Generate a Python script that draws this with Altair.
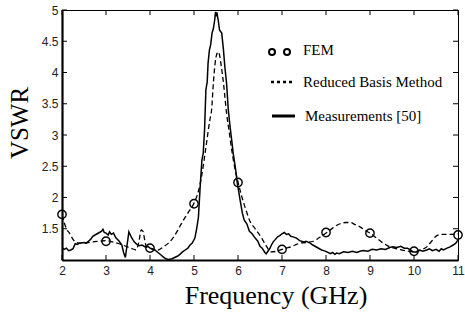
import altair as alt
import pandas as pd

# ---------------- data ----------------
series_names = ["FEM", "Reduced Basis Method", "Measurements [50]"]
x_title = "Frequency (GHz)"
y_title = "VSWR"

fem_freq = [2, 3, 4, 5, 6, 7, 8, 9, 10, 11]
fem_vswr = [1.73, 1.30, 1.19, 1.90, 2.24, 1.17, 1.44, 1.43, 1.14, 1.40]

rbm_freq = [2.00, 2.05, 2.10, 2.18, 2.25, 2.30, 2.40, 2.52, 2.70, 2.85, 3.00, 3.15, 3.30, 3.45,
            3.60, 3.68, 3.75, 3.80, 3.84, 3.88, 3.92, 4.00, 4.10, 4.19, 4.30, 4.42, 4.55, 4.65,
            4.72, 4.85, 5.00, 5.10, 5.17, 5.25, 5.30, 5.36, 5.40, 5.44, 5.48, 5.52, 5.55, 5.58,
            5.62, 5.67, 5.74, 5.80, 5.86, 5.92, 6.00, 6.10, 6.20, 6.26, 6.39, 6.52, 6.63, 6.75,
            6.88, 7.00, 7.10, 7.20, 7.30, 7.41, 7.55, 7.71, 7.85, 8.02, 8.15, 8.32, 8.45,
            8.55, 8.65, 8.77, 8.90, 9.00, 9.15, 9.30, 9.45, 9.60, 9.80, 10.00, 10.15, 10.29,
            10.40, 10.52, 10.65, 10.82, 11.00]
rbm_vswr = [1.72, 1.60, 1.50, 1.42, 1.33, 1.29, 1.27, 1.27, 1.29, 1.30, 1.31, 1.29, 1.26, 1.22,
            1.18, 1.16, 1.30, 1.48, 1.46, 1.32, 1.21, 1.19, 1.16, 1.16, 1.21, 1.27, 1.38, 1.50,
            1.59, 1.74, 1.91, 2.10, 2.33, 2.70, 2.95, 3.24, 3.40, 3.83, 4.15, 4.30, 4.33, 4.28,
            4.10, 3.83, 3.35, 3.05, 2.75, 2.50, 2.25, 1.98, 1.76, 1.64, 1.50, 1.37, 1.24, 1.13,
            1.14, 1.17, 1.19, 1.21, 1.24, 1.27, 1.28, 1.30, 1.36, 1.44, 1.51, 1.58, 1.60,
            1.60, 1.57, 1.53, 1.47, 1.43, 1.35, 1.27, 1.21, 1.18, 1.15, 1.13, 1.16, 1.21,
            1.30, 1.39, 1.41, 1.41, 1.42]

meas_freq = [2.00, 2.05, 2.10, 2.15, 2.20, 2.25, 2.30, 2.35, 2.40, 2.50, 2.55, 2.60, 2.65, 2.70,
             2.75, 2.80, 2.85, 2.90, 2.93, 2.96, 3.00, 3.05, 3.08, 3.12, 3.17, 3.22, 3.30, 3.36,
             3.40, 3.44, 3.52, 3.58, 3.64, 3.70, 3.76, 3.82, 3.89, 3.95, 4.00, 4.05, 4.11, 4.18,
             4.25, 4.30, 4.36, 4.42, 4.50, 4.56, 4.62, 4.68, 4.74, 4.80, 4.86, 4.91, 4.96, 5.02,
             5.06, 5.10, 5.14, 5.18, 5.21, 5.24, 5.27, 5.30, 5.32, 5.35, 5.38, 5.41, 5.44, 5.47,
             5.49, 5.50, 5.52, 5.55, 5.58, 5.63, 5.67, 5.70, 5.74, 5.78, 5.82, 5.86, 5.89, 5.94,
             5.98, 6.05, 6.10, 6.14, 6.20, 6.26, 6.32, 6.37, 6.45, 6.50, 6.55, 6.61, 6.64, 6.68,
             6.72, 6.76, 6.80, 6.85, 6.90, 6.95, 7.00, 7.05, 7.10, 7.15, 7.20, 7.25, 7.33, 7.40,
             7.50, 7.55, 7.64, 7.70, 7.80, 7.90, 7.95, 8.02, 8.10, 8.15, 8.20, 8.24, 8.30, 8.40,
             8.50, 8.60, 8.70, 8.77, 8.85, 8.95, 9.05, 9.15, 9.25, 9.35, 9.45, 9.52, 9.61, 9.70,
             9.78, 9.85, 9.92, 9.98, 10.06, 10.12, 10.20, 10.29, 10.35, 10.42, 10.50, 10.57,
             10.62, 10.67, 10.75, 10.82, 10.89, 10.95, 11.00]
meas_vswr = [1.20, 1.17, 1.19, 1.15, 1.16, 1.18, 1.26, 1.25, 1.27, 1.28, 1.27, 1.30, 1.33, 1.38,
             1.40, 1.42, 1.44, 1.46, 1.49, 1.44, 1.43, 1.40, 1.45, 1.41, 1.43, 1.36, 1.30, 1.24,
             1.12, 1.04, 1.45, 1.36, 1.29, 1.25, 1.23, 1.24, 1.21, 1.22, 1.19, 1.18, 1.16, 1.12,
             1.08, 1.05, 1.02, 1.01, 1.02, 1.04, 1.06, 1.09, 1.13, 1.16, 1.19, 1.24, 1.27, 1.35,
             1.50, 1.68, 2.17, 2.60, 2.71, 3.08, 3.72, 3.85, 4.15, 4.36, 4.45, 4.63, 4.70, 4.84,
             4.97, 4.90, 4.96, 4.84, 4.68, 4.63, 4.36, 4.10, 3.83, 3.40, 3.13, 2.90, 2.71, 2.48,
             2.25, 1.95, 1.75, 1.64, 1.58, 1.46, 1.42, 1.37, 1.30, 1.22, 1.19, 1.12, 1.10, 1.14,
             1.18, 1.24, 1.29, 1.33, 1.37, 1.39, 1.42, 1.44, 1.41, 1.42, 1.38, 1.37, 1.35, 1.31,
             1.29, 1.30, 1.27, 1.24, 1.20, 1.16, 1.15, 1.13, 1.10, 1.12, 1.09, 1.11, 1.10, 1.13,
             1.12, 1.14, 1.12, 1.14, 1.15, 1.14, 1.17, 1.16, 1.18, 1.17, 1.20, 1.21, 1.20, 1.22,
             1.19, 1.19, 1.16, 1.13, 1.13, 1.16, 1.14, 1.16, 1.18, 1.15, 1.17, 1.14,
             1.18, 1.16, 1.19, 1.21, 1.24, 1.27, 1.32]

x_ticks = [2, 3, 4, 5, 6, 7, 8, 9, 10, 11]
y_ticks = [1.5, 2, 2.5, 3, 3.5, 4, 4.5, 5]

fem_df = pd.DataFrame({"f": fem_freq, "v": fem_vswr})
rbm_df = pd.DataFrame({"f": rbm_freq, "v": rbm_vswr})
meas_df = pd.DataFrame({"f": meas_freq, "v": meas_vswr})
xt_df = pd.DataFrame({"f": x_ticks})
yt_df = pd.DataFrame({"v": y_ticks})
title_df = pd.DataFrame({"x_title": [x_title], "y_title": [y_title]})

SERIF = "Liberation Serif"
SANS = "Liberation Sans"

xscale = alt.Scale(domain=[2, 11], nice=False, zero=False)
yscale = alt.Scale(domain=[1, 5], nice=False, zero=False)

x_axis = alt.Axis(values=x_ticks, title=None, format="d", labelPadding=5, labelFont=SANS,
                  labelOverlap=False)
y_axis = alt.Axis(values=y_ticks, title=None, format="~g", labelPadding=4, labelFont=SANS,
                  labelOverlap=False)


def XE(field="f:Q"):
    return alt.X(field, scale=xscale, axis=x_axis)


def YE(field="v:Q"):
    return alt.Y(field, scale=yscale, axis=y_axis)


meas_line = alt.Chart(meas_df).mark_line(color="black", strokeWidth=1.5, clip=True).encode(
    x=XE(), y=YE(), order="f:Q")
rbm_line = alt.Chart(rbm_df).mark_line(color="black", strokeWidth=1.3, strokeDash=[5, 3],
                                       interpolate="monotone", clip=True).encode(
    x=XE(), y=YE(), order="f:Q")
fem_pts = alt.Chart(fem_df).mark_point(shape="circle", filled=False, color="black",
                                       size=70, strokeWidth=1.4, opacity=1).encode(
    x=XE(), y=YE())

# inward ticks
tick_len = 5
bottom_ticks = alt.Chart(xt_df).mark_rule(color="black", strokeWidth=1).encode(
    x=XE(), y=alt.value(250), y2=alt.value(250 - tick_len))
top_ticks = alt.Chart(xt_df).mark_rule(color="black", strokeWidth=1).encode(
    x=XE(), y=alt.value(0), y2=alt.value(tick_len))
left_ticks = alt.Chart(yt_df).mark_rule(color="black", strokeWidth=1).encode(
    y=YE(), x=alt.value(0), x2=alt.value(tick_len))
right_ticks = alt.Chart(yt_df).mark_rule(color="black", strokeWidth=1).encode(
    y=YE(), x=alt.value(396), x2=alt.value(396 - tick_len))

# axis titles (serif)
x_title_mark = alt.Chart(title_df).mark_text(
    font=SERIF, fontSize=26, color="black", align="center", baseline="alphabetic"
).encode(text="x_title:N", x=alt.value(214), y=alt.value(294))
y_title_mark = alt.Chart(title_df).mark_text(
    font=SERIF, fontSize=25, color="black", align="center", baseline="alphabetic", angle=270
).encode(text="y_title:N", x=alt.value(-34), y=alt.value(113))

# legend (inside plot, upper right)
leg_df = pd.DataFrame({"label": series_names})
leg_c1 = alt.Chart(leg_df.iloc[[0]]).mark_point(shape="circle", filled=False, color="black",
                                                 size=36, strokeWidth=2, opacity=1).encode(
    x=alt.value(210), y=alt.value(42))
leg_c2 = alt.Chart(leg_df.iloc[[0]]).mark_point(shape="circle", filled=False, color="black",
                                                 size=36, strokeWidth=2, opacity=1).encode(
    x=alt.value(225), y=alt.value(42))
leg_dash = alt.Chart(leg_df.iloc[[1]]).mark_rule(color="black", strokeWidth=2.5,
                                                  strokeDash=[3, 3]).encode(
    x=alt.value(209), x2=alt.value(232), y=alt.value(72))
leg_solid = alt.Chart(leg_df.iloc[[2]]).mark_rule(color="black", strokeWidth=3).encode(
    x=alt.value(210), x2=alt.value(233), y=alt.value(106))


def leg_label(i, x, y):
    return alt.Chart(leg_df.iloc[[i]]).mark_text(
        font=SERIF, fontSize=15, color="black", align="left", baseline="alphabetic"
    ).encode(text="label:N", x=alt.value(x), y=alt.value(y))


leg_t1 = leg_label(0, 241, 45)
leg_t2 = leg_label(1, 241, 77)
leg_t3 = leg_label(2, 243, 111)

chart = alt.layer(
    meas_line, rbm_line, fem_pts,
    bottom_ticks, top_ticks, left_ticks, right_ticks,
    x_title_mark, y_title_mark,
    leg_c1, leg_c2, leg_dash, leg_solid, leg_t1, leg_t2, leg_t3,
).properties(
    width=396, height=250,
    padding={"left": 62, "top": 10, "right": 7, "bottom": 60},
    autosize=alt.AutoSizeParams(type="none"),
    background="white",
).configure_view(
    stroke="black", strokeWidth=1
).configure_axis(
    ticks=False, domainWidth=2.2, domainColor="black", grid=False,
    labelFont=SANS, labelFontSize=12, labelColor="#222", labelFlush=False,
    labelOverlap=False,
)

chart.save("out.html", embed_options={"renderer": "svg", "actions": False})
